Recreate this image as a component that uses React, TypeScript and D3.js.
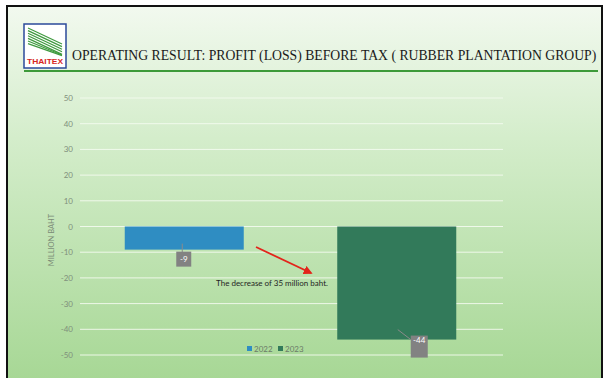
import React from "react";
import * as d3 from "d3";

const categories = ["2022", "2023"];
const values = [-9, -44];
const seriesColors = ["#2f8dc2", "#327a5a"];
const yTicks = [50, 40, 30, 20, 10, 0, -10, -20, -30, -40, -50];
const titleText = "OPERATING RESULT: PROFIT (LOSS) BEFORE TAX ( RUBBER PLANTATION GROUP)";
const annotationText = "The decrease of 35 million baht.";
const yAxisTitle = "MILLION BAHT";

const W = 607;
const H = 378;

export default function App() {
  const y = d3.scaleLinear().domain([-50, 50]).range([355, 98]);
  const x = d3.scaleBand<string>().domain(categories).range([78, 503]).paddingInner(0.44).paddingOuter(0.22);
  const bw = x.bandwidth();

  const stripes = d3.range(7);

  return (
    <svg width={W} height={H} style={{ position: "fixed", left: 0, top: 0 }} xmlns="http://www.w3.org/2000/svg">
      <defs>
        <linearGradient id="bg" x1="0" y1="0" x2="0" y2="1">
          <stop offset="0" stopColor="#f2f9ef" />
          <stop offset="0.35" stopColor="#d4edcb" />
          <stop offset="1" stopColor="#a6d794" />
        </linearGradient>
        <marker id="arr" viewBox="0 0 10 10" refX="8" refY="5" markerWidth="5" markerHeight="5" orient="auto">
          <path d="M0,0 L10,5 L0,10 z" fill="#e3241b" />
        </marker>
      </defs>
      <rect x={0} y={0} width={W} height={H} fill="#ffffff" />
      <rect x={7} y={6} width={595} height={H} fill="url(#bg)" stroke="#111" strokeWidth={2} />

      {/* logo */}
      <g>
        <rect x={24} y={24} width={42} height={44} fill="#ffffff" stroke="#2b4a9a" strokeWidth={1.5} />
        {stripes.map((i) => (
          <line key={i} x1={28} y1={28 + i * 2.6} x2={62} y2={44 + i * 2.6 - (i > 4 ? (i - 4) * 2 : 0)} stroke="#3f9a3f" strokeWidth={1.2} />
        ))}
        <text x={45} y={64} textAnchor="middle" fontFamily="Liberation Sans" fontWeight="bold" fontSize={7.5} fill="#d6261e" textLength={36} lengthAdjust="spacingAndGlyphs">THAITEX</text>
      </g>
      <text transform="translate(72,60) scale(0.915,1)" x={0} y={0} fontFamily="Liberation Serif" fontSize={15} fill="#1a1a1a">{titleText}</text>
      <line x1={24} x2={598} y1={71} y2={71} stroke="#3d9a3a" strokeWidth={2.2} />

      {/* gridlines */}
      {yTicks.map((t) => (
        <line key={"g" + t} x1={80} x2={503} y1={y(t)} y2={y(t)} stroke="#f4fbf0" strokeOpacity={0.9} strokeWidth={1} />
      ))}
      {yTicks.map((t) => (
        <text key={"t" + t} x={73} y={y(t) + 3} textAnchor="end" fontFamily="Lato" fontSize={8} fill="#7f8f7b">{t}</text>
      ))}
      <text transform={`translate(54,240) rotate(-90)`} textAnchor="middle" fontFamily="Lato" fontSize={7.5} fill="#7a8a76">{yAxisTitle}</text>

      {/* bars */}
      {categories.map((c, i) => (
        <rect key={c} x={x(c)} y={y(Math.max(0, values[i]))} width={bw} height={Math.abs(y(values[i]) - y(0))} fill={seriesColors[i]} />
      ))}

      {/* data labels */}
      {(() => {
        const c0 = categories[0];
        const bx0 = (x(c0) as number) + bw / 2;
        const by0 = y(values[0]);
        const c1 = categories[1];
        const bx1 = (x(c1) as number) + bw / 2;
        const by1 = y(values[1]);
        return (
          <g>
            <line x1={bx0 - 2} y1={by0 - 6} x2={bx0 - 2} y2={by0 + 3} stroke="#8a8a8a" strokeWidth={1} />
            <rect x={bx0 - 8} y={by0 + 2} width={15} height={15} fill="#828282" />
            <text x={bx0 - 0.5} y={by0 + 12.5} textAnchor="middle" fontFamily="Lato" fontSize={8} fill="#ffffff">{values[0]}</text>
            <line x1={bx1 + 1} y1={by1 - 10} x2={bx1 + 14} y2={by1} stroke="#8a8a8a" strokeWidth={1} />
            <rect x={bx1 + 14} y={by1 - 4} width={17} height={22} fill="#828282" />
            <text x={bx1 + 22.5} y={by1 + 3} textAnchor="middle" fontFamily="Lato" fontSize={8} fill="#ffffff">{values[1]}</text>
          </g>
        );
      })()}

      {/* annotation */}
      <line x1={256} y1={247} x2={311} y2={273} stroke="#e3241b" strokeWidth={1.8} markerEnd="url(#arr)" />
      <text x={272} y={286} textAnchor="middle" fontFamily="Lato" fontSize={8} fill="#1f1f1f">{annotationText}</text>

      {/* legend */}
      {categories.map((c, i) => (
        <g key={"l" + c} transform={`translate(${247 + i * 31},346)`}>
          <rect x={0} y={0} width={5} height={5} fill={seriesColors[i]} />
          <text x={7} y={5.5} fontFamily="Lato" fontSize={8} fill="#6b7a68">{c}</text>
        </g>
      ))}
    </svg>
  );
}
